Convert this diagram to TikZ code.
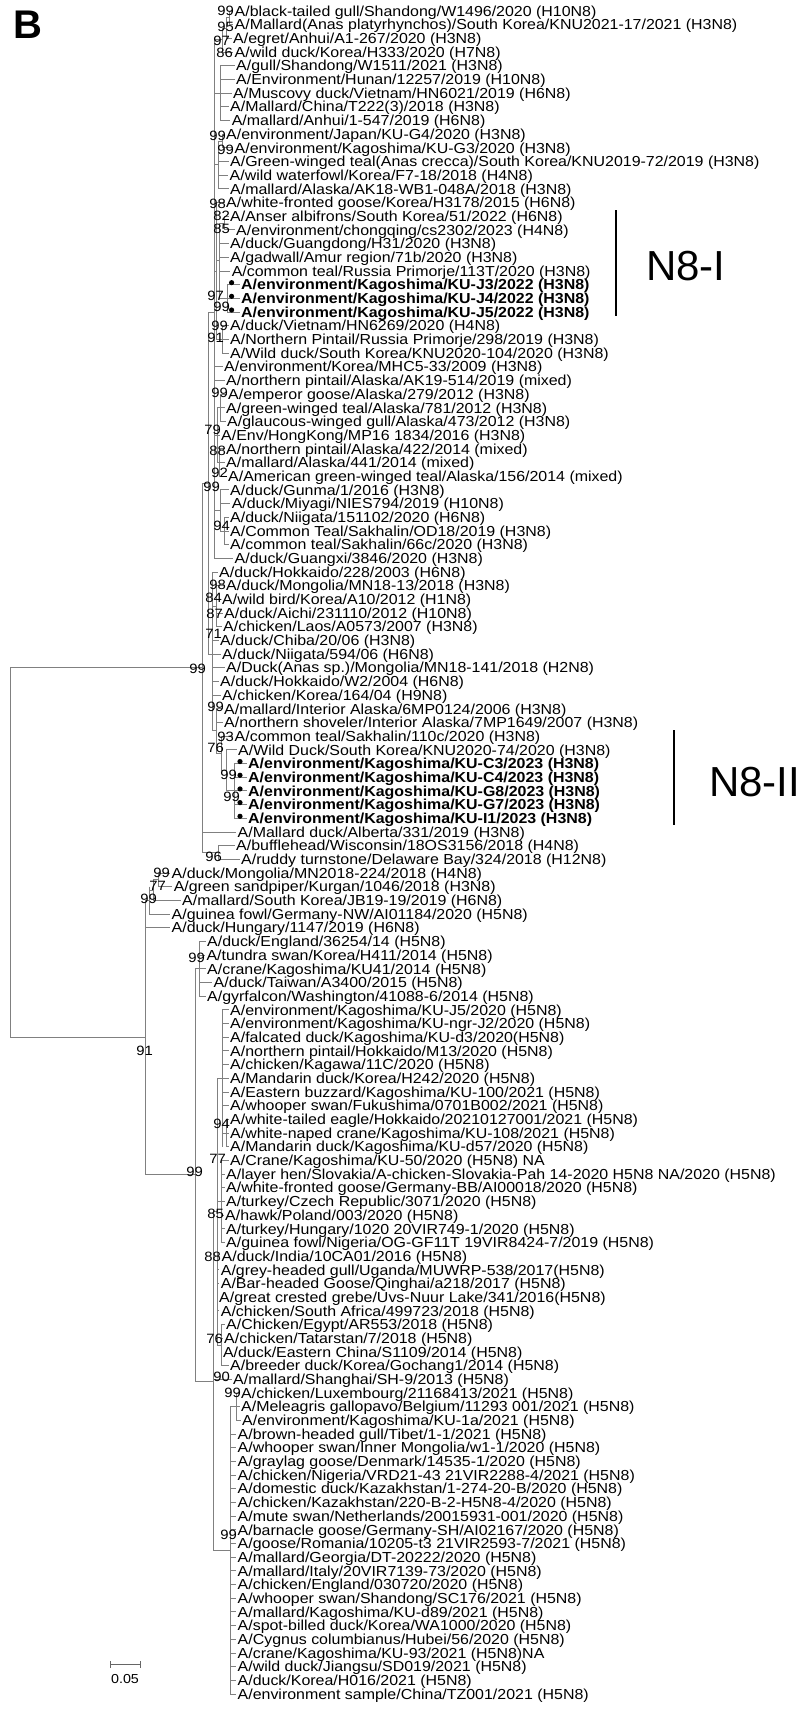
\documentclass[tikz,border=0pt]{standalone}
\usepackage{fontspec}
\newfontfamily\labfont{Liberation Sans}[FakeStretch=1.1]
\newfontfamily\plainfont{Liberation Sans}
\newcommand\tY[1]{(11+(#1-1)*13.683)}
\newcommand\tleaf[4]{\node[lab] (L#1) at (#2,{\tY{#1}}) {#4};\draw[br] (#3,{\tY{#1}}) -- ([xshift=-1.5pt]L#1.west);}
\newcommand\tleafd[5]{\node[labb] (L#1) at (#2,{\tY{#1}}) {#5};\draw[br] (#3,{\tY{#1}}) -- ([xshift=-1.5pt]L#1.west);\fill[black] (#4,{\tY{#1}-2}) circle (2.6pt);}
\newcommand\tsp[3]{\draw[br] (#1,{\tY{#2}}) -- (#1,{\tY{#3}});}
\newcommand\thz[3]{\draw[br] (#2,{\tY{#1}}) -- (#3,{\tY{#1}});}
\newcommand\tbs[4]{\node[bs] (#1) at (#2,#3) {#4};}
\begin{document}
\begin{tikzpicture}[x=1pt,y=-1pt,
 br/.style={draw=black!50, line width=0.9pt},
 lab/.style={font=\labfont\fontsize{14.5}{14.5}\selectfont, anchor=west, inner sep=0pt, text height=10.4pt, text depth=0pt},
 labb/.style={lab, font=\labfont\bfseries\fontsize{14.5}{14.5}\selectfont},
 bs/.style={font=\labfont\fontsize{13.5}{13.5}\selectfont, anchor=east, inner sep=0pt, text height=9.7pt, text depth=0pt},
 clade/.style={font=\plainfont\fontsize{42}{42}\selectfont, anchor=west, inner sep=0pt, text height=30pt, text depth=0pt},
 cbar/.style={draw=black, line width=2.5pt}]
\fill[white] (0,0) rectangle (799,1711);
\useasboundingbox (0,0) rectangle (799,1711);
\node[font=\plainfont\bfseries\fontsize{40}{40}\selectfont, anchor=base west, inner sep=0pt] (panel) at (13,38) {B};
% ---------- upper clade structure ----------
\tsp{214}{3.1}{41}
\tsp{229}{1}{2} \tsp{226}{1.5}{3} \tsp{222}{2.25}{4}
\thz{1.5}{226}{229} \thz{2.25}{222}{226} \thz{3.1}{214}{222}
\tsp{220}{5}{9} \thz{7}{214}{220}
\tsp{222}{10}{11} \tsp{218}{10.5}{14} \thz{10.5}{218}{222} \thz{12.25}{214}{218}
\tsp{216}{15}{25} \thz{20}{214}{216}
\tsp{219}{16.5}{22} \thz{19.25}{216}{219}
\tsp{224}{16}{17} \thz{16.5}{219}{224}
\tsp{227}{21}{23} \thz{22}{219}{227}
\tsp{222}{24}{26} \thz{25}{216}{222}
\tsp{217}{30}{34} \thz{32}{214}{217}
\tsp{220}{29}{31} \thz{30}{217}{220}
\tsp{219}{33}{35} \thz{34}{217}{219}
\tsp{220}{36}{39} \thz{37.5}{214}{220}
\tsp{224}{38}{40} \thz{39}{220}{224}
\tsp{208}{23}{48} \thz{23}{208}{214} \thz{48}{208}{212}
\tsp{212}{42}{53.6}
\tsp{216}{43}{46} \thz{44.5}{212}{216}
\tsp{216}{52}{55.25} \thz{53.6}{212}{216}
\tsp{221}{54}{56.5} \thz{55.25}{216}{221}
\tsp{226}{55}{58} \thz{56.5}{221}{226}
\tsp{234}{56}{60} \thz{58}{226}{234}
\tsp{202}{35.5}{62.5} \thz{35.5}{202}{208}
\tsp{218}{62}{63} \thz{62.5}{202}{218}
\thz{49}{10}{202}
% ---------- lower clade structure ----------
\tsp{149}{65}{67} \tsp{153}{64.5}{66} \tsp{158}{64}{65}
\thz{64.5}{153}{158} \thz{65.25}{149}{153}
\tsp{199}{69}{73}
\tsp{217}{79}{98.5}
\tsp{222}{74}{84} \thz{79}{217}{222} \tsp{226}{82}{84} \thz{83}{222}{226}
\tsp{221}{85}{91} \thz{88}{217}{221}
\tsp{221}{97}{100} \thz{98.5}{217}{221}
\tsp{230}{103}{124} \tsp{236}{102}{104} \thz{103}{230}{236}
\tsp{213}{88.75}{113.5} \thz{88.75}{213}{217} \thz{113.5}{213}{230}
\tsp{195}{71}{101.125} \thz{71}{195}{199} \thz{101.125}{195}{213}
\tsp{145}{66}{86.06} \thz{66}{145}{149} \thz{86.06}{145}{195}
\tsp{10}{49}{76.03} \thz{76.03}{10}{145}
% ---------- leaves ----------
\tleaf{1}{234.5}{229}{A/black-tailed gull/Shandong/W1496/2020 (H10N8)}
\tleaf{2}{234.5}{229}{A/Mallard(Anas platyrhynchos)/South Korea/KNU2021-17/2021 (H3N8)}
\tleaf{3}{233}{226}{A/egret/Anhui/A1-267/2020 (H3N8)}
\tleaf{4}{234.5}{222}{A/wild duck/Korea/H333/2020 (H7N8)}
\tleaf{5}{236}{220}{A/gull/Shandong/W1511/2021 (H3N8)}
\tleaf{6}{236}{220}{A/Environment/Hunan/12257/2019 (H10N8)}
\tleaf{7}{233}{220}{A/Muscovy duck/Vietnam/HN6021/2019 (H6N8)}
\tleaf{8}{230}{220}{A/Mallard/China/T222(3)/2018 (H3N8)}
\tleaf{9}{231.6}{220}{A/mallard/Anhui/1-547/2019 (H6N8)}
\tleaf{10}{226}{222}{A/environment/Japan/KU-G4/2020 (H3N8)}
\tleaf{11}{234.5}{222}{A/environment/Kagoshima/KU-G3/2020 (H3N8)}
\tleaf{12}{230}{218}{A/Green-winged teal(Anas crecca)/South Korea/KNU2019-72/2019 (H3N8)}
\tleaf{13}{229.5}{218}{A/wild waterfowl/Korea/F7-18/2018 (H4N8)}
\tleaf{14}{230}{218}{A/mallard/Alaska/AK18-WB1-048A/2018 (H3N8)}
\tleaf{15}{226}{216}{A/white-fronted goose/Korea/H3178/2015 (H6N8)}
\tleaf{16}{230}{224}{A/Anser albifrons/South Korea/51/2022 (H6N8)}
\tleaf{17}{236}{224}{A/environment/chongqing/cs2302/2023 (H4N8)}
\tleaf{18}{230}{219}{A/duck/Guangdong/H31/2020 (H3N8)}
\tleaf{19}{230}{219}{A/gadwall/Amur region/71b/2020 (H3N8)}
\tleaf{20}{231.6}{219}{A/common teal/Russia Primorje/113T/2020 (H3N8)}
\tleafd{21}{241}{227}{231.6}{A/environment/Kagoshima/KU-J3/2022 (H3N8)}
\tleafd{22}{241}{227}{231.6}{A/environment/Kagoshima/KU-J4/2022 (H3N8)}
\tleafd{23}{241}{227}{231.6}{A/environment/Kagoshima/KU-J5/2022 (H3N8)}
\tleaf{24}{230}{222}{A/duck/Vietnam/HN6269/2020 (H4N8)}
\tleaf{25}{230}{222}{A/Northern Pintail/Russia Primorje/298/2019 (H3N8)}
\tleaf{26}{230}{222}{A/Wild duck/South Korea/KNU2020-104/2020 (H3N8)}
\tleaf{27}{224}{214}{A/environment/Korea/MHC5-33/2009 (H3N8)}
\tleaf{28}{226}{214}{A/northern pintail/Alaska/AK19-514/2019 (mixed)}
\tleaf{29}{228}{220}{A/emperor goose/Alaska/279/2012 (H3N8)}
\tleaf{30}{226}{220}{A/green-winged teal/Alaska/781/2012 (H3N8)}
\tleaf{31}{227}{220}{A/glaucous-winged gull/Alaska/473/2012 (H3N8)}
\tleaf{32}{221}{217}{A/Env/HongKong/MP16 1834/2016 (H3N8)}
\tleaf{33}{226}{219}{A/northern pintail/Alaska/422/2014 (mixed)}
\tleaf{34}{226}{219}{A/mallard/Alaska/441/2014 (mixed)}
\tleaf{35}{228}{219}{A/American green-winged teal/Alaska/156/2014 (mixed)}
\tleaf{36}{230}{220}{A/duck/Gunma/1/2016 (H3N8)}
\tleaf{37}{231.6}{220}{A/duck/Miyagi/NIES794/2019 (H10N8)}
\tleaf{38}{230}{224}{A/duck/Niigata/151102/2020 (H6N8)}
\tleaf{39}{230}{224}{A/Common Teal/Sakhalin/OD18/2019 (H3N8)}
\tleaf{40}{230}{224}{A/common teal/Sakhalin/66c/2020 (H3N8)}
\tleaf{41}{234.5}{214}{A/duck/Guangxi/3846/2020 (H3N8)}
\tleaf{42}{219}{212}{A/duck/Hokkaido/228/2003 (H6N8)}
\tleaf{43}{226}{216}{A/duck/Mongolia/MN18-13/2018 (H3N8)}
\tleaf{44}{222}{216}{A/wild bird/Korea/A10/2012 (H1N8)}
\tleaf{45}{224}{216}{A/duck/Aichi/231110/2012 (H10N8)}
\tleaf{46}{223}{216}{A/chicken/Laos/A0573/2007 (H3N8)}
\tleaf{47}{220}{212}{A/duck/Chiba/20/06 (H3N8)}
\tleaf{48}{222}{212}{A/duck/Niigata/594/06 (H6N8)}
\tleaf{49}{226}{212}{A/Duck(Anas sp.)/Mongolia/MN18-141/2018 (H2N8)}
\tleaf{50}{220}{212}{A/duck/Hokkaido/W2/2004 (H6N8)}
\tleaf{51}{222}{212}{A/chicken/Korea/164/04 (H9N8)}
\tleaf{52}{224}{216}{A/mallard/Interior Alaska/6MP0124/2006 (H3N8)}
\tleaf{53}{224}{216}{A/northern shoveler/Interior Alaska/7MP1649/2007 (H3N8)}
\tleaf{54}{234.5}{221}{A/common teal/Sakhalin/110c/2020 (H3N8)}
\tleaf{55}{238}{226}{A/Wild Duck/South Korea/KNU2020-74/2020 (H3N8)}
\tleafd{56}{248}{234}{240}{A/environment/Kagoshima/KU-C3/2023 (H3N8)}
\tleafd{57}{248}{234}{240}{A/environment/Kagoshima/KU-C4/2023 (H3N8)}
\tleafd{58}{248}{234}{240}{A/environment/Kagoshima/KU-G8/2023 (H3N8)}
\tleafd{59}{248}{234}{240}{A/environment/Kagoshima/KU-G7/2023 (H3N8)}
\tleafd{60}{248}{234}{240}{A/environment/Kagoshima/KU-I1/2023 (H3N8)}
\tleaf{61}{237.5}{202}{A/Mallard duck/Alberta/331/2019 (H3N8)}
\tleaf{62}{236}{218}{A/bufflehead/Wisconsin/18OS3156/2018 (H4N8)}
\tleaf{63}{241}{218}{A/ruddy turnstone/Delaware Bay/324/2018 (H12N8)}
\tleaf{64}{171.5}{158}{A/duck/Mongolia/MN2018-224/2018 (H4N8)}
\tleaf{65}{173.6}{158}{A/green sandpiper/Kurgan/1046/2018 (H3N8)}
\tleaf{66}{182}{153}{A/mallard/South Korea/JB19-19/2019 (H6N8)}
\tleaf{67}{171.5}{149}{A/guinea fowl/Germany-NW/AI01184/2020 (H5N8)}
\tleaf{68}{171.5}{145}{A/duck/Hungary/1147/2019 (H6N8)}
\tleaf{69}{207}{199}{A/duck/England/36254/14 (H5N8)}
\tleaf{70}{206.4}{199}{A/tundra swan/Korea/H411/2014 (H5N8)}
\tleaf{71}{207}{199}{A/crane/Kagoshima/KU41/2014 (H5N8)}
\tleaf{72}{213.5}{199}{A/duck/Taiwan/A3400/2015 (H5N8)}
\tleaf{73}{207}{199}{A/gyrfalcon/Washington/41088-6/2014 (H5N8)}
\tleaf{74}{230}{222}{A/environment/Kagoshima/KU-J5/2020 (H5N8)}
\tleaf{75}{230}{222}{A/environment/Kagoshima/KU-ngr-J2/2020 (H5N8)}
\tleaf{76}{230}{222}{A/falcated duck/Kagoshima/KU-d3/2020(H5N8)}
\tleaf{77}{230}{222}{A/northern pintail/Hokkaido/M13/2020 (H5N8)}
\tleaf{78}{230}{222}{A/chicken/Kagawa/11C/2020 (H5N8)}
\tleaf{79}{230}{222}{A/Mandarin duck/Korea/H242/2020 (H5N8)}
\tleaf{80}{230}{222}{A/Eastern buzzard/Kagoshima/KU-100/2021 (H5N8)}
\tleaf{81}{230}{222}{A/whooper swan/Fukushima/0701B002/2021 (H5N8)}
\tleaf{82}{230}{226}{A/white-tailed eagle/Hokkaido/20210127001/2021 (H5N8)}
\tleaf{83}{230}{226}{A/white-naped crane/Kagoshima/KU-108/2021 (H5N8)}
\tleaf{84}{230}{226}{A/Mandarin duck/Kagoshima/KU-d57/2020 (H5N8)}
\tleaf{85}{230}{221}{A/Crane/Kagoshima/KU-50/2020 (H5N8) NA}
\tleaf{86}{226}{221}{A/layer hen/Slovakia/A-chicken-Slovakia-Pah 14-2020 H5N8 NA/2020 (H5N8)}
\tleaf{87}{226}{221}{A/white-fronted goose/Germany-BB/AI00018/2020 (H5N8)}
\tleaf{88}{226}{221}{A/turkey/Czech Republic/3071/2020 (H5N8)}
\tleaf{89}{225}{221}{A/hawk/Poland/003/2020 (H5N8)}
\tleaf{90}{226}{221}{A/turkey/Hungary/1020 20VIR749-1/2020 (H5N8)}
\tleaf{91}{226}{221}{A/guinea fowl/Nigeria/OG-GF11T 19VIR8424-7/2019 (H5N8)}
\tleaf{92}{221.5}{217}{A/duck/India/10CA01/2016 (H5N8)}
\tleaf{93}{220.7}{217}{A/grey-headed gull/Uganda/MUWRP-538/2017(H5N8)}
\tleaf{94}{220.7}{217}{A/Bar-headed Goose/Qinghai/a218/2017 (H5N8)}
\tleaf{95}{219}{217}{A/great crested grebe/Uvs-Nuur Lake/341/2016(H5N8)}
\tleaf{96}{220.7}{217}{A/chicken/South Africa/499723/2018 (H5N8)}
\tleaf{97}{226}{221}{A/Chicken/Egypt/AR553/2018 (H5N8)}
\tleaf{98}{224}{221}{A/chicken/Tatarstan/7/2018 (H5N8)}
\tleaf{99}{222.8}{221}{A/duck/Eastern China/S1109/2014 (H5N8)}
\tleaf{100}{230}{221}{A/breeder duck/Korea/Gochang1/2014 (H5N8)}
\tleaf{101}{233}{213}{A/mallard/Shanghai/SH-9/2013 (H5N8)}
\tleaf{102}{241}{236}{A/chicken/Luxembourg/21168413/2021 (H5N8)}
\tleaf{103}{241}{236}{A/Meleagris gallopavo/Belgium/11293 001/2021 (H5N8)}
\tleaf{104}{242}{236}{A/environment/Kagoshima/KU-1a/2021 (H5N8)}
\tleaf{105}{237.5}{230}{A/brown-headed gull/Tibet/1-1/2021 (H5N8)}
\tleaf{106}{237.5}{230}{A/whooper swan/Inner Mongolia/w1-1/2020 (H5N8)}
\tleaf{107}{237.5}{230}{A/graylag goose/Denmark/14535-1/2020 (H5N8)}
\tleaf{108}{237.5}{230}{A/chicken/Nigeria/VRD21-43 21VIR2288-4/2021 (H5N8)}
\tleaf{109}{237.5}{230}{A/domestic duck/Kazakhstan/1-274-20-B/2020 (H5N8)}
\tleaf{110}{237.5}{230}{A/chicken/Kazakhstan/220-B-2-H5N8-4/2020 (H5N8)}
\tleaf{111}{237.5}{230}{A/mute swan/Netherlands/20015931-001/2020 (H5N8)}
\tleaf{112}{237.5}{230}{A/barnacle goose/Germany-SH/AI02167/2020 (H5N8)}
\tleaf{113}{237.5}{230}{A/goose/Romania/10205-t3 21VIR2593-7/2021 (H5N8)}
\tleaf{114}{237.5}{230}{A/mallard/Georgia/DT-20222/2020 (H5N8)}
\tleaf{115}{237.5}{230}{A/mallard/Italy/20VIR7139-73/2020 (H5N8)}
\tleaf{116}{237.5}{230}{A/chicken/England/030720/2020 (H5N8)}
\tleaf{117}{237.5}{230}{A/whooper swan/Shandong/SC176/2021 (H5N8)}
\tleaf{118}{237.5}{230}{A/mallard/Kagoshima/KU-d89/2021 (H5N8)}
\tleaf{119}{237.5}{230}{A/spot-billed duck/Korea/WA1000/2020 (H5N8)}
\tleaf{120}{237.5}{230}{A/Cygnus columbianus/Hubei/56/2020 (H5N8)}
\tleaf{121}{237.5}{230}{A/crane/Kagoshima/KU-93/2021 (H5N8)NA}
\tleaf{122}{237.5}{230}{A/wild duck/Jiangsu/SD019/2021 (H5N8)}
\tleaf{123}{237.5}{230}{A/duck/Korea/H016/2021 (H5N8)}
\tleaf{124}{237.5}{230}{A/environment sample/China/TZ001/2021 (H5N8)}
% ---------- bootstrap values ----------
\tbs{b1}{234}{11}{99} \tbs{b2}{234}{26.5}{95} \tbs{b3}{230}{41}{97} \tbs{b4}{233}{53}{86}
\tbs{b5}{226}{136}{99} \tbs{b6}{234}{150}{99} \tbs{b7}{226}{204}{98} \tbs{b8}{230}{216}{82}
\tbs{b9}{230}{229}{85} \tbs{b10}{224}{296}{97} \tbs{b11}{230}{307}{99} \tbs{b12}{228}{326}{99}
\tbs{b13}{224}{338}{91} \tbs{b14}{228}{393}{99} \tbs{b15}{221}{430}{79} \tbs{b16}{226}{451}{88}
\tbs{b17}{228}{473}{92} \tbs{b18}{220}{487}{99} \tbs{b19}{230}{526}{94} \tbs{b20}{226}{585}{98}
\tbs{b21}{222}{598}{84} \tbs{b22}{223}{614}{87} \tbs{b23}{222}{634}{71} \tbs{b24}{206}{669}{99}
\tbs{b25}{224}{707}{99} \tbs{b26}{234}{737}{93} \tbs{b27}{224}{748}{76} \tbs{b28}{237}{775}{99}
\tbs{b29}{240}{797}{99} \tbs{b30}{222}{857}{96} \tbs{b31}{170}{873}{99} \tbs{b32}{166}{886}{77}
\tbs{b33}{157}{899}{99} \tbs{b34}{205}{958}{99} \tbs{b35}{153}{1051}{91} \tbs{b36}{230}{1124}{94}
\tbs{b37}{226}{1159}{77} \tbs{b38}{203}{1172}{99} \tbs{b39}{224}{1214}{85} \tbs{b40}{221}{1257}{88}
\tbs{b41}{223}{1339}{76} \tbs{b42}{230}{1377}{90} \tbs{b43}{241}{1393}{99} \tbs{b44}{237}{1535}{99}
% ---------- clade bars ----------
\coordinate (n8itop) at (616,210); \coordinate (n8ibot) at (616,316);
\draw[cbar] (n8itop) -- (n8ibot);
\node[clade] (n8i) at (646,265) {N8-I};
\coordinate (n8iitop) at (674,730); \coordinate (n8iibot) at (674,825);
\draw[cbar] (n8iitop) -- (n8iibot);
\node[clade] (n8ii) at (709,781) {N8-II};
% ---------- scale bar ----------
\coordinate (sb1) at (110,1664); \coordinate (sb2) at (140,1664);
\draw[draw=black!60, line width=0.9pt] (sb1) -- (sb2);
\draw[draw=black!60, line width=0.9pt] ([yshift=-3.5pt]sb1) -- ([yshift=3.5pt]sb1);
\draw[draw=black!60, line width=0.9pt] ([yshift=-3.5pt]sb2) -- ([yshift=3.5pt]sb2);
\node[font=\labfont\fontsize{13}{13}\selectfont, inner sep=0pt, text height=9.3pt, text depth=0pt] (sblab) at (125,1679) {0.05};
\end{tikzpicture}
\end{document}
